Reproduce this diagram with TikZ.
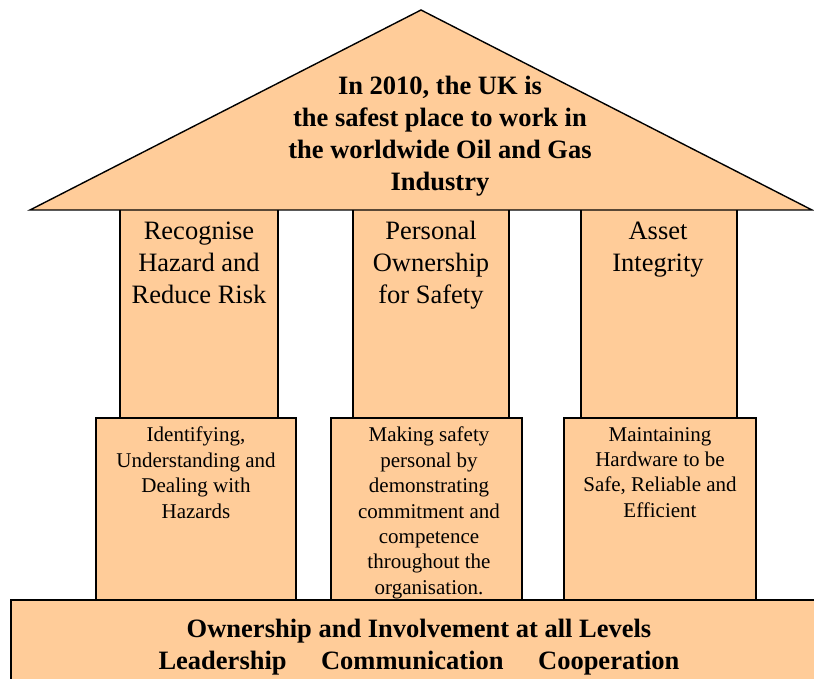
\documentclass[tikz,border=0pt]{standalone}
\usepackage{fontspec}
\setmainfont{Liberation Serif}
\usepackage{tikz}
\usetikzlibrary{positioning}

\definecolor{peach}{RGB}{255,204,153}
\tikzset{
  housepart/.style={draw=black, line width=1.4pt, fill=peach},
  bigtext/.style={align=center, inner sep=0pt, anchor=north, font=\fontsize{26.5}{32}\selectfont},
  smalltext/.style={align=center, inner sep=0pt, anchor=north, font=\fontsize{21}{25.4}\selectfont}
}

\begin{document}
\begin{tikzpicture}[x=1pt, y=-1pt]
    \useasboundingbox (0,0) rectangle (814,679);

    % draw the base of the house
    \draw [housepart] (11,600) rectangle (840,700);

    % draw the lower blocks of the pillars
    \draw [housepart] (96,418) rectangle (296,600);
    \draw [housepart] (331,418) rectangle (522,600);
    \draw [housepart] (564,418) rectangle (756,600);

    % draw the upper part of the pillars
    \draw [housepart] (120,205) rectangle (278,418);
    \draw [housepart] (353,205) rectangle (509,418);
    \draw [housepart] (581,205) rectangle (737,418);

    % draw the roof
    \draw [housepart, line join=miter] (421,10) -- (812,210) -- (30,210) -- cycle;

    % draw the label of the roof
    \node (goal) [bigtext, font=\fontsize{26.5}{32}\selectfont\bfseries] at (440,76)
        {In 2010, the UK is\\the safest place to work in\\the worldwide Oil and Gas\\Industry};

    % draw the labels for each pillar
    \node (hazard) [bigtext] at (199,222) {Recognise\\Hazard and\\Reduce Risk};
    \node (personal) [bigtext] at (431,221) {Personal\\Ownership\\for Safety};
    \node (asset) [bigtext] at (658,222) {Asset\\Integrity};

    % draw the texts of the lower blocks
    \node (hazardtext) [smalltext] at (196,427)
        {Identifying,\\Understanding and\\Dealing with\\Hazards};
    \node (personaltext) [smalltext] at (429,427)
        {Making safety\\personal by\\demonstrating\\commitment and\\competence\\throughout the\\organisation.};
    \node (assettext) [smalltext] at (660,427)
        {Maintaining\\Hardware to be\\Safe, Reliable and\\Efficient};

    % draw the label of the base
    \node (basetext) [bigtext, font=\fontsize{26.5}{32}\selectfont\bfseries] at (419,619)
        {Ownership and Involvement at all Levels\\
         Leadership\hspace{1.3em}Communication\hspace{1.3em}Cooperation};

\end{tikzpicture}
\end{document}
